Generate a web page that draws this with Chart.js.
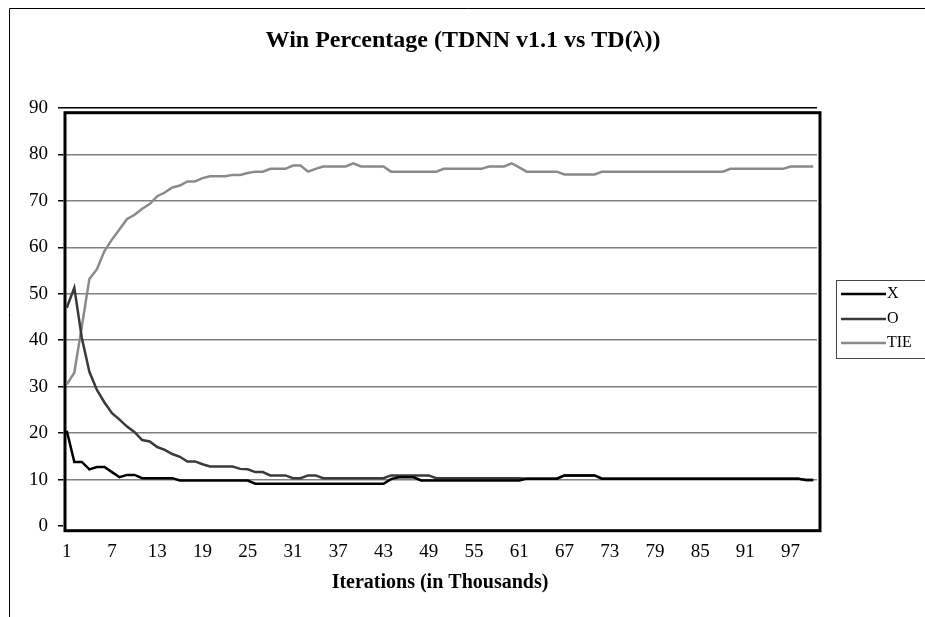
<!DOCTYPE html>
<html>
<head>
<meta charset="utf-8">
<title>Win Percentage</title>
<script src="https://cdn.jsdelivr.net/npm/chart.js@4/dist/chart.umd.min.js"></script>
<style>
  html, body { margin: 0; padding: 0; background: #fff; }
  #wrap { width: 925px; height: 617px; }
</style>
</head>
<body>
<div id="wrap"><canvas id="myChart" width="925" height="617"></canvas></div>
<script>
// chart data
var chartTitle = "Win Percentage (TDNN v1.1 vs TD(\u03bb))";
var axisTitle = "Iterations (in Thousands)";
var seriesNames = ["X", "O", "TIE"];
var seriesColors = ["#000000", "#3a3a3a", "#8a8a8a"];

var iterations = [];
for (var i = 1; i <= 100; i++) iterations.push(String(i));
var labelEvery = 6;   // x tick labels 1, 7, 13 ... 97
var yTicks = [0, 10, 20, 30, 40, 50, 60, 70, 80, 90];

var xValues = [
    20.5, 13.8, 13.8, 12.2, 12.7, 12.7, 11.6, 10.5, 11.0, 11.0,
    10.3, 10.3, 10.3, 10.3, 10.3, 9.8, 9.8, 9.8, 9.8, 9.8,
    9.8, 9.8, 9.8, 9.8, 9.8, 9.1, 9.1, 9.1, 9.1, 9.1,
    9.1, 9.1, 9.1, 9.1, 9.1, 9.1, 9.1, 9.1, 9.1, 9.1,
    9.1, 9.1, 9.1, 10.1, 10.5, 10.5, 10.5, 9.8, 9.8, 9.8,
    9.8, 9.8, 9.8, 9.8, 9.8, 9.8, 9.8, 9.8, 9.8, 9.8,
    9.8, 10.2, 10.2, 10.2, 10.2, 10.2, 10.9, 10.9, 10.9, 10.9,
    10.9, 10.2, 10.2, 10.2, 10.2, 10.2, 10.2, 10.2, 10.2, 10.2,
    10.2, 10.2, 10.2, 10.2, 10.2, 10.2, 10.2, 10.2, 10.2, 10.2,
    10.2, 10.2, 10.2, 10.2, 10.2, 10.2, 10.2, 10.2, 9.9, 9.9
];
var oValues = [
    47.0, 51.3, 40.5, 33.2, 29.3, 26.6, 24.3, 22.9, 21.4, 20.2,
    18.5, 18.2, 17.0, 16.4, 15.5, 14.9, 13.9, 13.9, 13.3, 12.8,
    12.8, 12.8, 12.8, 12.3, 12.2, 11.6, 11.6, 10.9, 10.9, 10.9,
    10.3, 10.3, 10.9, 10.9, 10.3, 10.3, 10.3, 10.3, 10.3, 10.3,
    10.3, 10.3, 10.3, 10.9, 10.9, 10.9, 10.9, 10.9, 10.9, 10.3,
    10.3, 10.3, 10.3, 10.3, 10.3, 10.3, 10.3, 10.3, 10.3, 10.3,
    10.3, 10.2, 10.2, 10.2, 10.2, 10.2, 10.9, 10.9, 10.9, 10.9,
    10.9, 10.2, 10.2, 10.2, 10.2, 10.2, 10.2, 10.2, 10.2, 10.2,
    10.2, 10.2, 10.2, 10.2, 10.2, 10.2, 10.2, 10.2, 10.2, 10.2,
    10.2, 10.2, 10.2, 10.2, 10.2, 10.2, 10.2, 10.2, 9.9, 9.9
];
var tieValues = [
    30.5, 33.0, 43.0, 53.2, 55.3, 59.2, 61.7, 63.9, 66.1, 67.0,
    68.3, 69.3, 71.0, 71.8, 72.9, 73.3, 74.2, 74.2, 74.9, 75.3,
    75.3, 75.3, 75.6, 75.6, 76.0, 76.3, 76.3, 76.9, 76.9, 76.9,
    77.6, 77.6, 76.3, 76.9, 77.4, 77.4, 77.4, 77.4, 78.1, 77.4,
    77.4, 77.4, 77.4, 76.3, 76.3, 76.3, 76.3, 76.3, 76.3, 76.3,
    76.9, 76.9, 76.9, 76.9, 76.9, 76.9, 77.4, 77.4, 77.4, 78.1,
    77.2, 76.3, 76.3, 76.3, 76.3, 76.3, 75.7, 75.7, 75.7, 75.7,
    75.7, 76.3, 76.3, 76.3, 76.3, 76.3, 76.3, 76.3, 76.3, 76.3,
    76.3, 76.3, 76.3, 76.3, 76.3, 76.3, 76.3, 76.3, 76.9, 76.9,
    76.9, 76.9, 76.9, 76.9, 76.9, 76.9, 77.4, 77.4, 77.4, 77.4
];

var serif = "'Liberation Serif', 'Times New Roman', serif";

function makeSet(idx, values) {
    return {
        label: seriesNames[idx],
        data: values,
        borderColor: seriesColors[idx],
        backgroundColor: seriesColors[idx],
        borderWidth: 2.5,
        pointRadius: 0,
        tension: 0,
        fill: false
    };
}

// frame, title, plot border and legend drawn by hand (excel look)
var excelDecor = {
    id: 'excelDecor',
    beforeDraw: function(chart) {
        var c = chart.ctx;
        c.save();
        c.fillStyle = '#fff';
        c.fillRect(0, 0, chart.width, chart.height);
        c.strokeStyle = '#000';
        c.lineWidth = 1;
        c.beginPath();
        c.moveTo(9.5, chart.height);
        c.lineTo(9.5, 8.5);
        c.lineTo(chart.width, 8.5);
        c.stroke();

        c.fillStyle = '#000';
        c.font = "bold 24px " + serif;
        c.textAlign = 'center';
        c.textBaseline = 'alphabetic';
        c.fillText(chartTitle, 463, 47);
        c.restore();
    },
    beforeDatasetsDraw: function(chart) {
        var a = chart.chartArea;
        var c = chart.ctx;
        c.save();
        c.strokeStyle = '#000';
        c.lineWidth = 3;
        c.strokeRect(a.left + 2, a.top + 4.7, a.right - a.left + 1, a.bottom - a.top);
        c.restore();
    },
    afterDraw: function(chart) {
        var c = chart.ctx;
        c.save();
        c.strokeStyle = '#444';
        c.lineWidth = 1;
        c.strokeRect(836.5, 280.5, 120, 78);
        c.font = "16px " + serif;
        c.textAlign = 'left';
        c.textBaseline = 'middle';
        var ys = [294, 319, 343];
        chart.data.datasets.forEach(function(ds, k) {
            c.strokeStyle = ds.borderColor;
            c.lineWidth = 2.5;
            c.beginPath();
            c.moveTo(841, ys[k]);
            c.lineTo(886, ys[k]);
            c.stroke();
            c.fillStyle = '#000';
            c.fillText(ds.label, 887, ys[k]);
        });
        c.restore();
    }
};

var ctx = document.getElementById('myChart').getContext('2d');
var chart = new Chart(ctx, {
    type: 'line',
    data: {
        labels: iterations,
        datasets: [makeSet(0, xValues), makeSet(1, oValues), makeSet(2, tieValues)]
    },
    plugins: [excelDecor],
    options: {
        responsive: false,
        animation: false,
        devicePixelRatio: 1,
        layout: { padding: { top: 108, right: 108, bottom: 0, left: 0 } },
        plugins: {
            legend: { display: false },
            title: { display: false },
            tooltip: { enabled: false }
        },
        scales: {
            x: {
                offset: true,
                border: { display: false },
                grid: {
                    drawOnChartArea: false,
                    drawTicks: false
                },
                ticks: {
                    autoSkip: false,
                    maxRotation: 0,
                    minRotation: 0,
                    padding: 15,
                    color: '#000',
                    font: { family: serif, size: 19 },
                    callback: function(val, index) {
                        return index % labelEvery == 0 ? this.getLabelForValue(val) : '';
                    }
                },
                title: {
                    display: true,
                    text: axisTitle,
                    color: '#000',
                    font: { family: serif, size: 20, weight: 'bold' },
                    padding: { top: 0, bottom: 22 }
                },
                afterFit: function(s) { s.height = 91; }
            },
            y: {
                min: yTicks[0],
                max: yTicks[yTicks.length - 1],
                border: { display: false },
                grid: {
                    color: function(g) {
                        if (g.tick.value == 0) return 'rgba(0,0,0,0)';
                        if (g.tick.value == 90) return '#000';
                        return '#808080';
                    },
                    lineWidth: 1.5,
                    tickLength: 5,
                    tickColor: '#000'
                },
                ticks: {
                    stepSize: 10,
                    padding: 10,
                    color: '#000',
                    font: { family: serif, size: 19 }
                },
                afterFit: function(s) { s.width = 63; }
            }
        }
    }
});
</script>
</body>
</html>
